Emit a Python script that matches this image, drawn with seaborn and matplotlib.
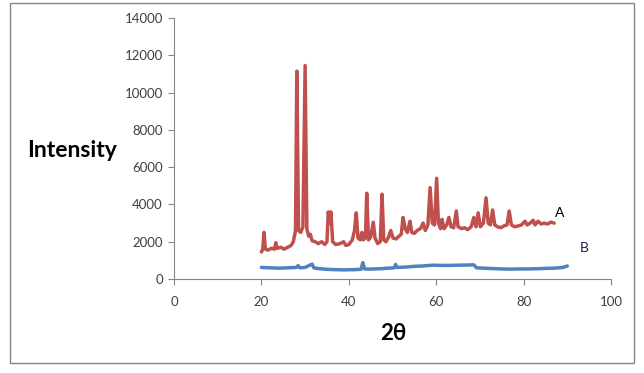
import pandas as pd
import seaborn as sns
import matplotlib.pyplot as plt
from matplotlib.patches import Rectangle

# XRD pattern A (red)
a_theta = [20.0, 20.3, 20.6, 20.9, 21.5, 22.3, 23.0, 23.3, 23.6, 24.5, 25.2, 26.0, 26.8, 27.3, 27.8,
           28.1, 28.5, 29.0, 29.5, 30.0, 30.4, 30.8, 31.2, 31.6, 32.3, 33.0, 33.8, 34.5, 35.0, 35.3,
           35.6, 35.9, 36.3, 37.0, 38.0, 38.8, 39.3, 40.0, 40.8, 41.3, 41.7, 42.1, 42.6, 43.0, 43.3,
           43.8, 44.1, 44.5, 45.0, 45.6, 46.0, 46.6, 47.2, 47.6, 48.0, 48.5, 49.0, 49.6, 50.1, 50.8,
           51.5, 52.0, 52.4, 52.9, 53.4, 54.0, 54.4, 55.0, 55.6, 56.4, 57.0, 57.5, 58.1, 58.6, 59.1,
           59.6, 60.1, 60.5, 61.0, 61.3, 61.8, 62.4, 62.9, 63.4, 64.0, 64.6, 65.0, 65.8, 66.5, 67.2,
           68.0, 68.6, 69.1, 69.6, 70.1, 70.8, 71.4, 71.9, 72.4, 72.9, 73.4, 74.0, 74.8, 75.5, 76.2,
           76.7, 77.2, 78.0, 78.8, 79.5, 80.3, 80.8, 81.5, 82.2, 82.6, 83.3, 84.0, 84.7, 85.5, 86.2,
           87.0]
a_int = [1450, 1600, 2500, 1600, 1550, 1650, 1600, 1950, 1650, 1700, 1600, 1700, 1800, 2000, 2600,
         11150, 2600, 2500, 2800, 11450, 2700, 2300, 2400, 2050, 2000, 1900, 2000, 1850, 2000, 3600,
         3000, 3600, 2000, 1850, 1900, 2000, 1800, 1850, 2100, 2600, 3550, 2200, 2100, 2500, 2100,
         2200, 4600, 2100, 2250, 3050, 2200, 1900, 2000, 4550, 2100, 2000, 2200, 2600, 2200, 2150,
         2300, 2400, 3300, 2700, 2500, 3100, 2500, 2450, 2600, 2700, 3000, 2600, 2900, 4900, 3000,
         2900, 5400, 3000, 2700, 3200, 2700, 2900, 3300, 2800, 2750, 3650, 2800, 2700, 2750, 2650,
         2800, 3300, 2800, 3550, 2800, 3000, 4350, 3000, 2900, 3700, 2900, 2800, 2750, 2850, 2900,
         3650, 2900, 2800, 2850, 2900, 3100, 2900, 3000, 3150, 2900, 3100, 2950, 3000, 2950, 3050,
         3000]

# XRD pattern B (blue)
b_theta = [20.0, 22.0, 24.0, 26.0, 28.0, 28.4, 28.8, 30.0, 31.6, 32.0, 33.0, 35.0, 37.0, 39.0, 41.0,
           42.8, 43.2, 43.6, 45.0, 47.0, 49.0, 50.4, 50.7, 51.0, 53.0, 55.0, 57.0, 59.0, 61.0, 63.0,
           65.0, 67.0, 68.6, 69.2, 71.0, 73.0, 75.0, 77.0, 79.0, 81.0, 83.0, 85.0, 87.0, 89.0, 90.0]
b_int = [620, 600, 580, 600, 620, 720, 600, 620, 800, 600, 560, 520, 500, 490, 500,
         520, 880, 540, 530, 550, 580, 600, 780, 620, 640, 680, 700, 740, 730, 730,
         740, 750, 760, 600, 580, 560, 540, 530, 540, 540, 550, 570, 580, 620, 700]

sns.set_style('white')
plt.rcParams['font.family'] = ['Lato', 'DejaVu Sans']

fig = plt.figure(figsize=(6.44, 3.73), dpi=100)
ax = fig.add_axes([0.2702, 0.252, 0.6786, 0.6997])

sns.lineplot(x=a_theta, y=a_int, color='#C0504D', linewidth=2.5, ax=ax)
sns.lineplot(x=b_theta, y=b_int, color='#4F81BD', linewidth=2.5, ax=ax)

ax.set_xlim(0, 100)
ax.set_ylim(0, 14000)
ax.set_xticks(range(0, 101, 20))
ax.set_yticks(range(0, 14001, 2000))

for side in ['top', 'right']:
    ax.spines[side].set_visible(False)
for side in ['left', 'bottom']:
    ax.spines[side].set_color('#868686')
    ax.spines[side].set_linewidth(0.8)
ax.tick_params(axis='both', direction='out', length=4, width=0.8, color='#868686',
               labelsize=9.5, labelcolor='#404040')
ax.tick_params(axis='x', bottom=True, pad=8)
ax.tick_params(axis='y', left=True, pad=4)

ax.set_ylabel('Intensity', fontsize=16.5, fontweight='bold', color='black',
              rotation=0, va='center', ha='center')
ax.yaxis.set_label_coords(-0.233, 0.494)
ax.set_xlabel('2θ', fontsize=16, fontweight='bold', color='black', va='center')
ax.xaxis.set_label_coords(0.501, -0.207)

ax.text(88.3, 3540, 'A', fontsize=10, color='#000000', ha='center', va='center')
ax.text(93.8, 1660, 'B', fontsize=10, color='#1F2060', ha='center', va='center')

fig.patches.append(Rectangle((10 / 644, 1 - 363 / 373), 624 / 644, 360 / 373,
                             transform=fig.transFigure, fill=False,
                             edgecolor='#868686', linewidth=1.0))

plt.savefig('out.png', dpi=100)
